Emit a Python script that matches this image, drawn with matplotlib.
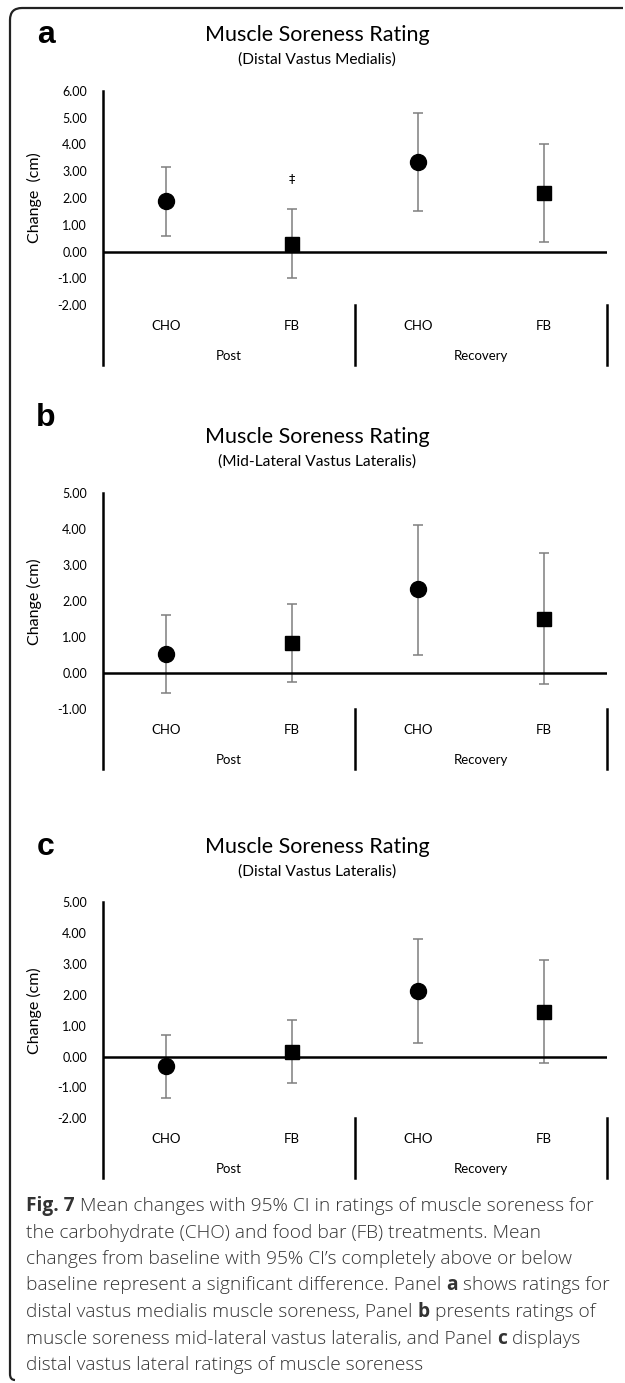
import matplotlib
matplotlib.use("Agg")
import matplotlib.pyplot as plt
from matplotlib.path import Path
from matplotlib.patches import PathPatch
from matplotlib.text import Annotation

W, H = 625, 1383

treatments = ["CHO", "FB", "CHO", "FB"]
timepoints = ["Post", "Recovery"]
markers = ["o", "s", "o", "s"]

# a: distal vastus medialis
a_mean = [1.90, 0.30, 3.35, 2.20]
a_low = [0.60, -1.00, 1.52, 0.36]
a_high = [3.17, 1.58, 5.17, 4.01]
a_ticks = [6, 5, 4, 3, 2, 1, 0, -1, -2]

# b: mid-lateral vastus lateralis
b_mean = [0.54, 0.83, 2.33, 1.52]
b_low = [-0.55, -0.24, 0.50, -0.30]
b_high = [1.61, 1.92, 4.13, 3.34]
b_ticks = [5, 4, 3, 2, 1, 0, -1]

# c: distal vastus lateralis
c_mean = [-0.32, 0.16, 2.13, 1.45]
c_low = [-1.35, -0.85, 0.45, -0.21]
c_high = [0.70, 1.19, 3.80, 3.12]
c_ticks = [5, 4, 3, 2, 1, 0, -1, -2]

FONT = ["Lato", "DejaVu Sans"]
CAP_FONT = ["Open Sans", "DejaVu Sans"]

fig = plt.figure(figsize=(W / 100, H / 100), dpi=100)


def fx(x):
    return x / W


def fy(y):
    return 1 - y / H


def panel(letter, subtitle, mean, low, high, ticks, top, bottom, title_y, letter_y,
          ylabel="Change (cm)", note=None):
    ax = fig.add_axes([fx(103), fy(bottom), fx(607) - fx(103), (bottom - top) / H])
    hpx = bottom - top
    ax.set_xlim(0, 4)
    ax.set_ylim(min(ticks), max(ticks))
    for s in ax.spines.values():
        s.set_visible(False)
    ax.set_xticks([])
    ax.set_yticks(ticks)
    ax.set_yticklabels([f"{t:.2f}" for t in ticks], fontfamily=FONT, fontsize=9)
    ax.tick_params(axis="y", length=0, pad=11.5)
    ax.set_ylabel(ylabel, fontfamily=FONT, fontsize=11.5)
    ax.yaxis.set_label_coords(-(103 - 42) / 504, 0.5)

    x = [0.5, 1.5, 2.5, 3.5]
    lo = [m - l for m, l in zip(mean, low)]
    hi = [h - m for m, h in zip(mean, high)]
    ax.errorbar(x, mean, yerr=[lo, hi], fmt="none", ecolor="#7f7f7f",
                elinewidth=1.1, capsize=3.5, capthick=1.1, zorder=2)
    ax.axhline(0, color="black", lw=1.8, zorder=3)
    for xi, m, mk in zip(x, mean, markers):
        ax.plot(xi, m, marker=mk, ms=11.5 if mk == "o" else 10.5, color="black",
                mec="black", zorder=4, clip_on=False)

    # category axis below the plot
    f = lambda px: -px / hpx
    ax.plot([0, 0], [1.0, f(60)], color="black", lw=1.8,
            transform=ax.get_xaxis_transform(), clip_on=False)
    for xd in [2, 4]:
        ax.plot([xd, xd], [0, f(60)], color="black", lw=1.8,
                transform=ax.get_xaxis_transform(), clip_on=False)
    for xi, t in zip(x, treatments):
        ax.text(xi, f(20.5), t, ha="center", va="center", fontfamily=FONT,
                fontsize=9.5, transform=ax.get_xaxis_transform())
    for xi, t in zip([1, 3], timepoints):
        ax.text(xi, f(50.5), t, ha="center", va="center", fontfamily=FONT,
                fontsize=9.5, transform=ax.get_xaxis_transform())
    if note:
        ax.text(note[0], note[1], note[2], ha="center", va="center",
                fontfamily="DejaVu Sans", fontsize=9)

    fig.text(fx(46), fy(letter_y), letter, ha="center", va="center",
             fontfamily="Liberation Sans", fontweight="bold", fontsize=23)
    fig.text(fx(317), fy(title_y), "Muscle Soreness Rating", ha="center",
             va="center", fontfamily=FONT, fontsize=15.5)
    fig.text(fx(317), fy(title_y + 25), subtitle, ha="center", va="center",
             fontfamily=FONT, fontsize=11.2)
    return ax


panel("a", "(Distal Vastus Medialis)", a_mean, a_low, a_high, a_ticks,
      90.7, 305.3, 35, 35, ylabel="Change  (cm)", note=(1.5, 2.73, "\u2021"))
panel("b", "(Mid-Lateral Vastus Lateralis)", b_mean, b_low, b_high, b_ticks,
      493.3, 709.3, 437, 418)
panel("c", "(Distal Vastus Lateralis)", c_mean, c_low, c_high, c_ticks,
      902.3, 1118.3, 847, 847)

# frame (top and left edges, rounded corner)
r = 12
verts = [(fx(623), fy(8)), (fx(10 + r), fy(8)), (fx(10), fy(8)), (fx(10), fy(8 + r)),
         (fx(10), fy(1374)), (fx(10), fy(1380)), (fx(15), fy(1380))]
codes = [Path.MOVETO, Path.LINETO, Path.CURVE3, Path.CURVE3, Path.LINETO,
         Path.CURVE3, Path.CURVE3]
fig.add_artist(PathPatch(Path(verts, codes), fill=False, ec="#222222", lw=1.6,
                         transform=fig.transFigure))

# caption, (text, bold) segments per line
caption = [
    [("Fig. 7", True), (" Mean changes with 95% CI in ratings of muscle soreness for", False)],
    [("the carbohydrate (CHO) and food bar (FB) treatments. Mean", False)],
    [("changes from baseline with 95% CI\u2019s completely above or below", False)],
    [("baseline represent a significant difference. Panel ", False), ("a", True),
     (" shows ratings for", False)],
    [("distal vastus medialis muscle soreness, Panel ", False), ("b", True),
     (" presents ratings of", False)],
    [("muscle soreness mid-lateral vastus lateralis, and Panel ", False), ("c", True),
     (" displays", False)],
    [("distal vastus lateral ratings of muscle soreness", False)],
]
for i, segs in enumerate(caption):
    last = None
    for txt, bold in segs:
        kw = dict(fontfamily=CAP_FONT, fontsize=13.8, color="#333333",
                  fontweight="bold" if bold else "light", va="center", ha="left")
        if last is None:
            last = fig.text(fx(26), fy(1206 + i * 26.5), txt, **kw)
        else:
            last = fig.add_artist(Annotation(txt, xy=(1, 0.5), xycoords=last, **kw))

fig.savefig("out.png", dpi=100)
